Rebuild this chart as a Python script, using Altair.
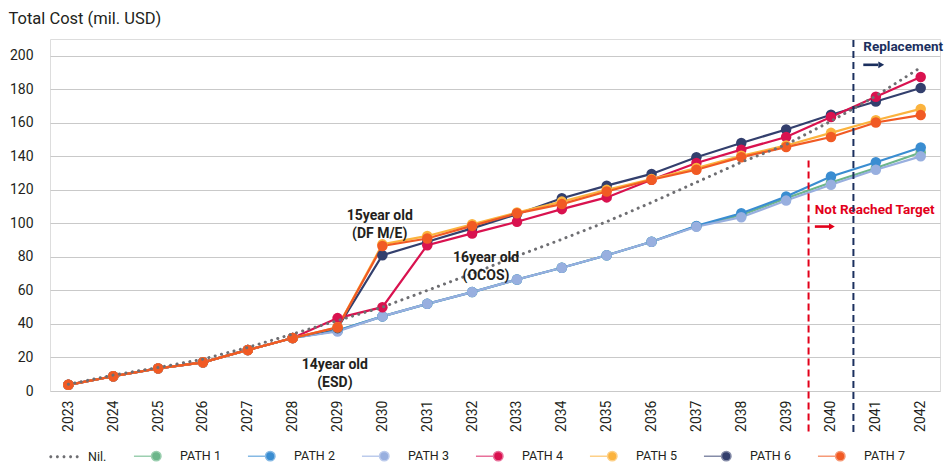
import altair as alt
import pandas as pd

years = list(range(2023, 2043))
series_names = ["Nil.", "PATH 1", "PATH 2", "PATH 3", "PATH 4", "PATH 5", "PATH 6", "PATH 7"]
series_colors = ["#6e6e72", "#6db68b", "#3a8dd1", "#98afdf", "#d9124f", "#fbb33e", "#333f6d", "#f15a24"]
legend_line_colors = ["transparent", "#9ccfb0", "#86b9e4", "#bccbec", "#e8709a", "#fdd088", "#858ca8", "#f69a78"]

nil = [4, 9.5, 14, 19, 26, 34, 42, 50, 60, 70, 80.5, 90.5, 101, 112.5, 124.5, 136.5, 147, 161, 176, 193]
common = [3.7, 8.8, 13.5, 17.1, 24.5, 31.6]
path1 = common + [36, 44.5, 52, 59, 66.5, 73.5, 81, 89, 98.3, 105, 115, 124.4, 133, 142.3]
path2 = common + [36, 44.5, 52, 59, 66.5, 73.5, 81, 89, 98.5, 106, 116, 128, 136.5, 145.3]
path3 = common + [35.5, 44.5, 52, 59, 66.5, 73.5, 81, 89, 98, 103.7, 113.6, 123, 132, 140]
path4 = common + [43.5, 50, 87, 94, 101, 108.5, 115.5, 126, 136, 144, 151.5, 163.5, 175.5, 187.3]
path5 = common + [38, 87.5, 92.5, 99.5, 106.5, 113, 120, 126.5, 133, 140.3, 146.5, 154, 161.5, 168.3]
path6 = common + [37.5, 81, 89, 97, 105.5, 115, 122.5, 129.5, 139.5, 148, 156, 164.8, 172.7, 180.8]
path7 = common + [38, 86.5, 91, 98.5, 106, 111.5, 119, 126, 132, 139.5, 145.5, 151.5, 160.2, 164.6]

paths = {"PATH 1": path1, "PATH 2": path2, "PATH 3": path3, "PATH 4": path4,
         "PATH 5": path5, "PATH 6": path6, "PATH 7": path7}
draw_order = ["PATH 1", "PATH 2", "PATH 3", "PATH 6", "PATH 4", "PATH 5", "PATH 7"]

# annotations
note_text = ["15year old\n(DF M/E)", "16year old\n(OCOS)", "14year old\n(ESD)"]
note_year = [2029.94, 2032.31, 2028.94]
note_value = [104.6, 79.2, 15.5]

marker_labels = ["Not Reached Target", "Replacement"]
marker_year = [2039.5, 2040.5]
marker_top = [137.5, 209.4]
marker_bottom = [-24.5, -24.5]
marker_colors = ["#e2001a", "#1b2f5e"]
marker_text_year = [2039.64, 2040.72]
marker_text_value = [108.1, 205.2]
arrow_start = [2039.64, 2040.72]
arrow_end = [2039.96, 2041.05]
arrow_head = [2040.02, 2041.12]
arrow_value = [98.1, 194.6]

rows = []
for s in draw_order:
    for y, v in zip(years, paths[s]):
        rows.append({"series": s, "year": y, "value": v})
df_paths = pd.DataFrame(rows)
df_nil = pd.DataFrame({"series": "Nil.", "year": years, "value": nil})
df_notes = pd.DataFrame({"year": note_year, "value": note_value, "text": note_text})
df_legend = pd.DataFrame({"series": series_names, "year": years[0], "value": nil[0]})

FONT = "Roboto"
TXT = "#231f20"

x_axis = alt.Axis(values=years, format="d", labelAngle=-90, grid=False, ticks=False,
                  domain=False, labelPadding=9, labelFontSize=14, labelColor=TXT,
                  labelFlush=False, labelOverlap=False, title=None)
y_axis = alt.Axis(values=list(range(0, 201, 20)), grid=True, gridColor="#c9c9c9",
                  gridWidth=1, ticks=False, domain=False, labelPadding=17,
                  labelFontSize=14, labelColor=TXT, title="Total Cost (mil. USD)",
                  titleAngle=0, titleAlign="left", titleBaseline="alphabetic",
                  titleX=-42, titleY=-16, titleFontSize=16.5, titleFontWeight="normal",
                  titleColor=TXT)
x_scale = alt.Scale(domain=[2022.59, 2042.43], nice=False, zero=False)
y_scale = alt.Scale(domain=[0, 210], nice=False)


def X(field="year"):
    return alt.X(f"{field}:Q", scale=x_scale, axis=x_axis)


def Y(field="value"):
    return alt.Y(f"{field}:Q", scale=y_scale, axis=y_axis)


path_domain = series_names[1:]
path_range = series_colors[1:]
color_enc = alt.Color("series:N", scale=alt.Scale(domain=path_domain, range=path_range), legend=None)

lines = alt.Chart(df_paths).mark_line(strokeWidth=2.2).encode(
    x=X(), y=Y(), color=color_enc, detail="series:N"
)
points = alt.Chart(df_paths).mark_point(filled=True, size=110, opacity=1, strokeWidth=0).encode(
    x=X(), y=Y(), color=color_enc
)
nil_line = alt.Chart(df_nil).mark_line(
    color=series_colors[0], strokeWidth=3, strokeDash=[0.1, 6.4], strokeCap="round"
).encode(x=X(), y=Y())

layers = [lines, points, nil_line]

for i in range(2):
    df_rule = pd.DataFrame({"year": [marker_year[i]], "value": [marker_top[i]], "value2": [marker_bottom[i]]})
    layers.append(alt.Chart(df_rule).mark_rule(color=marker_colors[i], strokeWidth=2,
                                                strokeDash=[7, 4]).encode(
        x=X(), y=Y(), y2="value2:Q"))
    df_lab = pd.DataFrame({"year": [marker_text_year[i]], "value": [marker_text_value[i]],
                           "text": [marker_labels[i]]})
    layers.append(alt.Chart(df_lab).mark_text(align="left", baseline="middle", font=FONT,
                                               fontSize=13.5, fontWeight="bold",
                                               color=marker_colors[i]).encode(
        x=X(), y=Y(), text="text:N"))
    df_arrow = pd.DataFrame({"year": [arrow_start[i]], "year2": [arrow_end[i]],
                             "value": [arrow_value[i]]})
    layers.append(alt.Chart(df_arrow).mark_rule(color=marker_colors[i], strokeWidth=2.6).encode(
        x=X(), x2="year2:Q", y=Y()))
    df_head = pd.DataFrame({"year": [arrow_head[i]], "value": [arrow_value[i]]})
    layers.append(alt.Chart(df_head).mark_point(shape="triangle-right", filled=True, size=45,
                                                 opacity=1, color=marker_colors[i],
                                                 strokeWidth=0).encode(x=X(), y=Y()))

notes = alt.Chart(df_notes).mark_text(align="center", baseline="middle", font=FONT, fontSize=14,
                                      fontWeight="bold", color=TXT, lineBreak="\n",
                                      lineHeight=18).encode(x=X(), y=Y(), text="text:N")
layers.append(notes)


# legend symbols: dotted line for Nil, line + dot for paths
def dot(cx, r=0.1):
    return f"M{cx - r},0A{r},{r},0,1,1,{cx + r},0A{r},{r},0,1,1,{cx - r},0Z"


nil_symbol = "".join(dot(c) for c in [-0.88, -0.44, 0, 0.44, 0.88])
path_symbol = "M-1.47,0L-0.3,0M-0.3,0A0.316,0.316,0,1,1,0.333,0A0.316,0.316,0,1,1,-0.3,0Z"
shape_range = [nil_symbol] + [path_symbol] * 7

legend = alt.Legend(orient="none", legendX=-2, legendY=401, direction="horizontal", columns=8,
                    title=None, symbolSize=900, symbolStrokeWidth=1.5, symbolOpacity=1,
                    labelFont=FONT, labelFontSize=12.5, labelColor=TXT, labelOffset=8,
                    columnPadding=23, padding=0,
                    labelExpr="datum.label == 'Nil.' ? 'Nil.\u00a0\u00a0\u00a0\u00a0' : datum.label")
legend_layer = alt.Chart(df_legend).mark_point(filled=True, size=0, opacity=1).encode(
    x=X(), y=Y(),
    shape=alt.Shape("series:N", scale=alt.Scale(domain=series_names, range=shape_range), legend=legend),
    fill=alt.Fill("series:N", scale=alt.Scale(domain=series_names, range=series_colors), legend=legend),
    stroke=alt.Stroke("series:N", scale=alt.Scale(domain=series_names, range=legend_line_colors), legend=legend),
)
layers.append(legend_layer)

chart = alt.layer(*layers).properties(
    width=890, height=352,
    autosize=alt.AutoSizeParams(type="none"),
    padding={"left": 50, "top": 39, "right": 10, "bottom": 84},
    background="white",
).configure_view(stroke=None).configure(font=FONT)

chart.save("out.html", embed_options={"renderer": "svg", "actions": False})
